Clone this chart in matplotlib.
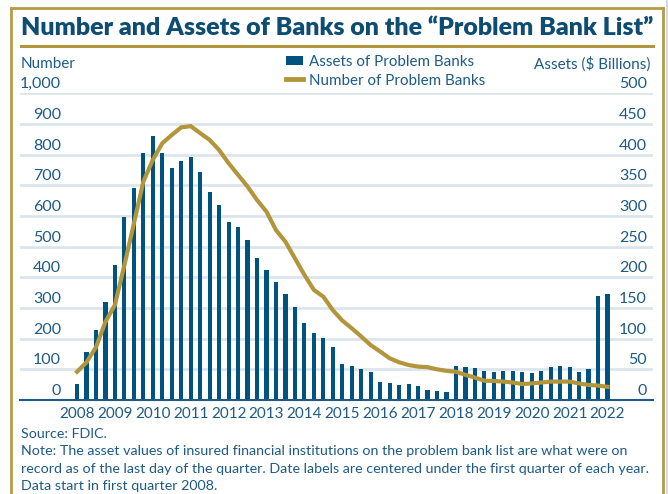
import matplotlib
matplotlib.use("Agg")
import matplotlib.pyplot as plt
from matplotlib.lines import Line2D
from matplotlib.patches import Patch
import numpy as np

# quarterly data, 2008 Q1 .. 2022 Q1
years = list(range(2008, 2023))
assets = [26, 78, 114, 159, 220, 298, 345, 402, 430, 402, 378, 389, 396, 371,
          339, 318, 291, 282, 261, 231, 212, 192, 173, 151, 126, 110, 101, 86,
          58, 55, 50, 46, 29, 28, 24, 26, 23, 16, 15, 13, 55, 54, 52, 47, 46,
          47, 47, 46, 44, 47, 54, 55, 54, 46, 50, 169, 172]
number = [92, 123, 172, 255, 310, 440, 575, 712, 783, 837, 864, 889, 893, 870,
          848, 815, 772, 734, 696, 652, 614, 554, 516, 462, 408, 359, 337, 293,
          259, 234, 207, 179, 158, 136, 123, 114, 109, 107, 100, 95, 92, 82,
          73, 63, 62, 60, 57, 52, 54, 57, 60, 60, 60, 54, 49, 47, 43]
left_ticks = [0, 100, 200, 300, 400, 500, 600, 700, 800, 900, 1000]
right_ticks = [0, 50, 100, 150, 200, 250, 300, 350, 400, 450, 500]

BLUE = "#00527f"
TXT = "#1d5b86"
TITLE = "#0d4d73"
GOLD = "#b3963c"
GRID = "#dce5ee"
FONT = "Lato"

W, H = 668, 494
fig = plt.figure(figsize=(W / 100, H / 100), dpi=100)
fig.patch.set_facecolor("white")

def fx(px):
    return px / W

def fy(py):
    return 1 - py / H

# axes box in pixels: x 20..653, y 93.3 (top) .. 400 (baseline)
ax = fig.add_axes([fx(20), fy(400), fx(653) - fx(20), fy(93.3) - fy(400)])
ax2 = ax.twinx()

q = np.arange(len(assets))
ax.bar(q, assets, width=0.44, color=BLUE, zorder=2)
ax2.plot(q, number, color=GOLD, lw=3.0, solid_joinstyle="miter")

ax.set_xlim(-6.02, 60.8)
ax.set_ylim(0, 500)
ax2.set_ylim(0, 1000)

ax.set_yticks(right_ticks[1:])
ax.yaxis.grid(True, color=GRID, lw=2.0)
ax.set_axisbelow(True)
ax.tick_params(axis="y", length=0, labelleft=False, labelright=False)
ax2.set_yticks([])
for a in (ax, ax2):
    for s in ("top", "left", "right"):
        a.spines[s].set_visible(False)
ax2.spines["bottom"].set_visible(False)
ax.spines["bottom"].set_color(TXT)
ax.spines["bottom"].set_linewidth(1.5)

ax.set_xticks(q[::4])
ax.set_xticklabels([str(y) for y in years], fontfamily=FONT, fontsize=11, color=TXT)
ax.tick_params(axis="x", length=0, pad=5)

# axis numbers sitting on the gridlines
for v in left_ticks:
    ax2.annotate(f"{v:,}", xy=(0.0648, v), xycoords=("axes fraction", "data"),
                 xytext=(0, 2), textcoords="offset pixels", ha="right", va="bottom",
                 fontfamily=FONT, fontsize=11.5, color=TXT)
for v in right_ticks:
    ax.annotate(f"{v}", xy=(0.9905, v), xycoords=("axes fraction", "data"),
                xytext=(0, 2), textcoords="offset pixels", ha="right", va="bottom",
                fontfamily=FONT, fontsize=11.5, color=TXT)

fig.text(fx(21), fy(64), "Number", ha="left", va="center",
         fontfamily=FONT, fontsize=11, color=TXT)
fig.text(fx(651), fy(64), "Assets ($ Billions)", ha="right", va="center",
         fontfamily=FONT, fontsize=11, color=TXT)

handles = [Patch(facecolor=BLUE, edgecolor="none"),
           Line2D([], [], color=GOLD, lw=3.5)]
fig.legend(handles, ["Assets of Problem Banks", "Number of Problem Banks"],
           loc="upper left", bbox_to_anchor=(fx(286), fy(55)), frameon=False,
           prop={"family": FONT, "size": 10.9}, labelcolor=TXT,
           handlelength=1.1, handleheight=0.6, handletextpad=0.45,
           labelspacing=0.3, borderpad=0, borderaxespad=0)

# title and gold rule
fig.text(fx(21), fy(28), "Number and Assets of Banks on the \u201cProblem Bank List\u201d",
         ha="left", va="center", fontfamily=FONT, fontweight="heavy",
         fontsize=18.0, color=TITLE)
fig.add_artist(Line2D([fx(21), fx(653)], [fy(46), fy(46)], color=GOLD, lw=2.2))

# footnotes
notes = ["Source: FDIC.",
         "Note: The asset values of insured financial institutions on the problem bank list are what were on",
         "record as of the last day of the quarter. Date labels are centered under the first quarter of each year.",
         "Data start in first quarter 2008."]
for i, line in enumerate(notes):
    fig.text(fx(21), fy(434 + i * 17.3), line, ha="left", va="center",
             fontfamily=FONT, fontsize=10.25, color=TXT)

# frame (bottom edge runs off the image)
frame = dict(color="#b89a48", lw=2.0)
fig.add_artist(Line2D([fx(11), fx(11)], [0, fy(8)], **frame))
fig.add_artist(Line2D([fx(11), fx(663)], [fy(8), fy(8)], **frame))
fig.add_artist(Line2D([fx(663), fx(663)], [fy(8), 0], **frame))
fig.add_artist(Line2D([fx(666.5), fx(666.5)], [0, 1], color="#c9d6e2", lw=1.2))

fig.savefig("out.png", dpi=100)
